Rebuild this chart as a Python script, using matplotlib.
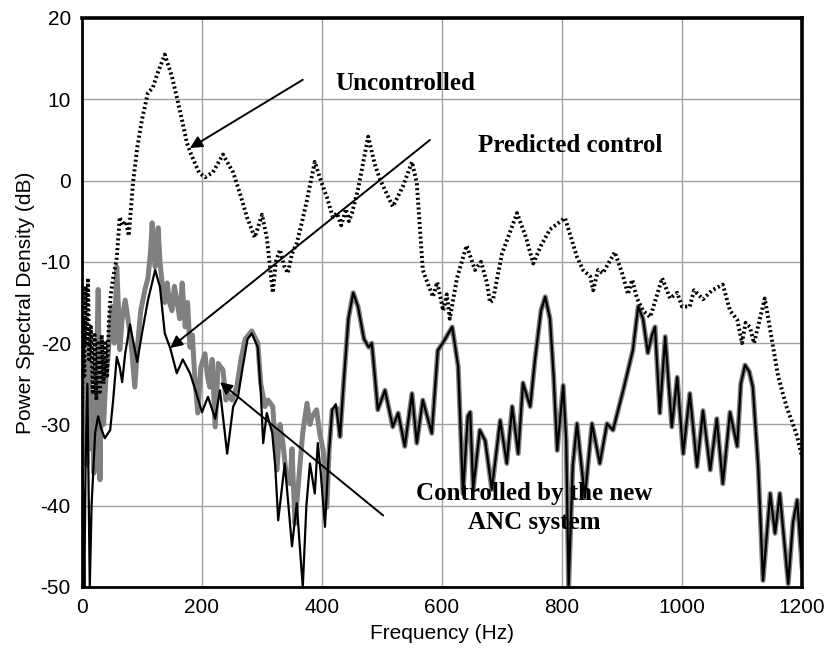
import matplotlib
matplotlib.use('Agg')
import matplotlib.pyplot as plt
import numpy as np

# Uncontrolled spectrum (dotted)
unc_f = [0, 2, 4, 6, 8, 10, 12, 15, 18, 21, 24, 27, 30, 33, 36, 39, 42, 45, 48, 52, 58, 63, 68, 73, 78,
         85, 92, 100, 110, 118, 125, 138, 150, 163, 175, 182, 195, 205, 218, 235, 252, 265, 275, 288, 300,
         308, 318, 323, 330, 337, 343, 350, 358, 367, 375, 388, 398, 408, 418, 425, 432, 440, 445, 450,
         460, 477, 488, 497, 518, 535, 550, 558, 568, 578, 585, 592, 602, 608, 613, 625, 641, 655, 665, 675,
         680, 685, 692, 700, 725, 740, 752, 765, 780, 805, 825, 835, 847, 852, 860, 868, 888, 902, 910, 917,
         925, 935, 947, 967, 980, 992, 1000, 1013, 1020, 1035, 1050, 1068, 1080, 1092, 1100, 1106, 1113,
         1120, 1138, 1152, 1160, 1168, 1175, 1185, 1192, 1200]
unc_db = [-28, -17, -24, -13, -20, -12, -22, -18, -26, -19, -27, -20, -26, -19, -25, -20, -24, -17, -14,
          -12, -9.5, -4.5, -5.5, -5, -6.8, -0.3, 4, 7.5, 10.8, 11.4, 13, 15.5, 12.8, 8.7, 4.6, 3.2, 1, 0.4,
          1, 3.2, 1, -2, -4.5, -7, -4.2, -7, -13.8, -10, -8.5, -10.5, -11.4, -9, -7.7, -5, -2.4, 2.3, 0,
          -2, -4.5, -4, -5.5, -3.5, -5, -4, -1.1, 5.4, 2, 0.1, -3.2, -0.7, 2.3, -0.3, -11, -13, -14.3,
          -12.5, -16, -14, -17, -12, -8, -11, -10, -12.6, -15, -14.7, -12, -9, -4, -7, -10.2, -8, -6, -4.6,
          -9.4, -11, -11.8, -13.5, -11, -11.4, -8.8, -11.8, -14, -12.2, -14.5, -16, -16.8, -12, -14.5, -13.8,
          -15.5, -15.5, -13.5, -14.6, -13.5, -12.8, -16, -17.1, -20, -17.5, -18, -20, -14.5, -20.5, -24,
          -26.2, -28, -30, -31.5, -34]

# Predicted control (thin black)
pred_f = [0, 2, 4, 6, 9, 11, 13, 16, 18, 22, 27, 32, 38, 47, 52, 58, 63, 67, 72, 80, 86, 92, 100, 110,
          122, 130, 138, 147, 158, 168, 180, 190, 200, 210, 222, 230, 242, 252, 260, 268, 276, 283, 293,
          298, 302, 308, 317, 322, 327, 338, 350, 358, 363, 368, 374, 380, 388, 393, 398, 405, 411, 417,
          423, 430, 436, 444, 452, 460, 470, 478, 483, 488, 493, 505, 518, 527, 538, 550, 558, 568, 583,
          588, 593, 602, 617, 627, 635, 643, 647, 652, 663, 672, 683, 697, 708, 717, 727, 735, 747, 755,
          765, 772, 780, 786, 792, 802, 807, 811, 818, 825, 838, 850, 863, 875, 885, 902, 918, 927, 935,
          943, 950, 955, 963, 972, 983, 992, 1002, 1013, 1025, 1035, 1047, 1058, 1068, 1080, 1092, 1098,
          1105, 1112, 1118, 1127, 1135, 1147, 1155, 1163, 1170, 1177, 1185, 1192, 1200]
pred_db = [-28, -40, -50, -35, -25, -38, -50, -40, -37, -31, -29, -30.5, -31.7, -30.7, -27, -21.7, -23,
           -24.8, -21.3, -17.7, -20, -22.3, -18.8, -14.7, -11, -13.1, -18.8, -20.6, -23.7, -22, -23.7,
           -26, -28.5, -26.6, -29.3, -25.8, -33.6, -27.8, -26.6, -22.9, -19.5, -18.8, -20.5, -26, -32.3,
           -28.6, -31, -35, -41.8, -34.8, -45, -39.7, -45, -50, -40, -34.8, -38.5, -32.3, -36, -42.6, -34,
           -28.2, -27.5, -31.5, -25, -17, -13.8, -15.5, -19.5, -20.5, -20, -24, -28.2, -25.8, -30.3, -28.6,
           -32.7, -26.2, -32.3, -27, -31.1, -26, -20.9, -19.9, -18, -22.9, -38.5, -29, -28.5, -38, -30.7,
           -32, -38, -29.5, -34.8, -27.8, -33.6, -24.9, -27.8, -22, -16, -14.3, -17, -24, -33.2, -25.2,
           -32, -50, -35, -29.9, -39, -29.9, -34.8, -29.9, -30.7, -25.8, -20.9, -15.5, -17, -21.2, -19,
           -18, -28.6, -19.2, -30.3, -24.2, -33.6, -26.2, -35.2, -28.3, -35.6, -29.3, -37.3, -28.5, -32.7,
           -25, -22.7, -23.5, -25.4, -35.2, -49.2, -38.5, -43.4, -38.5, -44, -49.6, -42, -39.3, -47.5]

# Controlled by the new ANC system (grey), low-frequency part; above 430 Hz it follows the prediction
anc_f = [0, 2, 4, 6, 8, 10, 12, 14, 17, 20, 23, 27, 29, 30, 33, 36, 40, 43, 47, 50, 54, 58, 61, 63, 67,
         72, 77, 82, 88, 93, 98, 105, 110, 114, 117, 120, 122, 125, 127, 130, 133, 138, 142, 146, 150,
         154, 158, 163, 167, 172, 176, 180, 184, 188, 193, 198, 205, 209, 213, 217, 222, 227, 235, 240,
         243, 250, 258, 265, 272, 283, 293, 298, 305, 310, 318, 325, 330, 335, 340, 347, 350, 355, 360,
         363, 368, 375, 380, 383, 391, 396, 402, 408, 412, 417, 425]
anc_db = [-22, -19, -30, -24, -35, -27, -20, -33, -26, -36, -28, -13.4, -25, -36.8, -22, -30, -24, -22,
          -18, -15.5, -20, -10.6, -16, -20.8, -17, -14.7, -17.2, -20, -25.4, -20, -16, -13.4, -12, -9,
          -5.2, -9, -10.6, -8, -5.8, -10, -12.2, -15, -12.6, -15, -16, -13, -14.7, -17, -12.6, -18, -15,
          -20.5, -19, -24.2, -28.6, -23, -21.3, -24, -25.4, -22, -30.3, -22.5, -23.3, -27, -26.2, -27,
          -25.4, -22, -19.5, -18.5, -20, -25, -27.8, -27, -27.8, -35.6, -30, -32.3, -36, -37.3, -33,
          -42.2, -38, -35.2, -31, -27.4, -30, -29.1, -28.2, -31, -33.2, -40.2, -33, -28.2, -28]

anc_f_all = anc_f + [f for f in pred_f if f >= 430]
anc_db_all = anc_db + [d for f, d in zip(pred_f, pred_db) if f >= 430]

plt.rcParams['font.family'] = ['Liberation Sans', 'DejaVu Sans']
plt.rcParams['axes.unicode_minus'] = False

fig = plt.figure(figsize=(8.33, 6.52), dpi=100)
ax = fig.add_axes([0.0984, 0.0997, 0.8644, 0.8727])

ax.plot(anc_f_all, anc_db_all, color='#808080', lw=3.6, zorder=2)
ax.plot(pred_f, pred_db, color='black', lw=1.6, zorder=3)
ax.plot(unc_f, unc_db, color='black', lw=2.8, linestyle=(0, (0.55, 0.7)), zorder=4)

ax.set_xlim(0, 1200)
ax.set_ylim(-50, 20)
ax.set_xticks(np.arange(0, 1201, 200))
ax.set_yticks(np.arange(-50, 21, 10))
ax.grid(True, color='#a0a0a0', lw=1.0)
ax.set_axisbelow(True)
ax.tick_params(length=0, labelsize=15, pad=8)

for s in ['left', 'bottom']:
    ax.spines[s].set_linewidth(2)
for s in ['top', 'right']:
    ax.spines[s].set_linewidth(2.6)

ax.set_xlabel('Frequency (Hz)', fontsize=15, labelpad=5)
ax.set_ylabel('Power Spectral Density (dB)', fontsize=15, labelpad=4)

# annotations
serif = dict(family=['Liberation Serif', 'DejaVu Serif'], weight='bold', fontsize=18)
ax.text(422, 11.9, 'Uncontrolled', ha='left', va='center', **serif)
ax.text(660, 4.3, 'Predicted control', ha='left', va='center', **serif)
ax.text(753, -40.3, 'Controlled by the new\nANC system', ha='center', va='center',
        multialignment='center', linespacing=1.3, **serif)

arrow = dict(arrowstyle='-|>', color='black', lw=1.4, mutation_scale=18, shrinkA=0, shrinkB=0)
ax.annotate('', xy=(180, 4.0), xytext=(368, 12.4), arrowprops=arrow)
ax.annotate('', xy=(147, -20.6), xytext=(580, 5.0), arrowprops=arrow)
ax.annotate('', xy=(230, -24.8), xytext=(502, -41.2), arrowprops=arrow)

fig.savefig('out.png', dpi=100)
